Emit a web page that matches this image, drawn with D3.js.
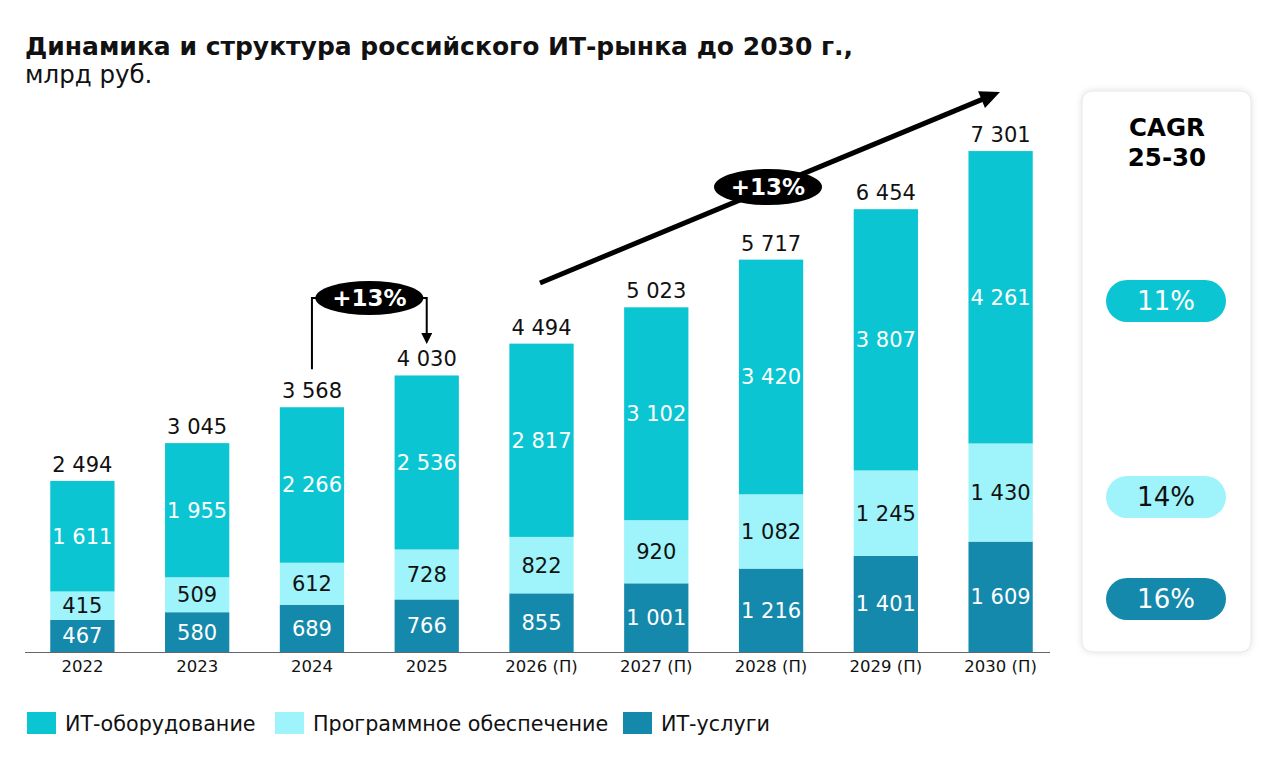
<!DOCTYPE html>
<html>
<head>
<meta charset="utf-8">
<script src="https://cdn.jsdelivr.net/npm/d3@7"></script>
<style>
  body { margin: 0; background: #fff; }
  svg text { font-family: "DejaVu Sans", Verdana, sans-serif; }
</style>
</head>
<body>
<div id="chart"></div>
<script>
// ---- data ----
const years = ["2022", "2023", "2024", "2025", "2026 (П)", "2027 (П)", "2028 (П)", "2029 (П)", "2030 (П)"];
const services = [467, 580, 689, 766, 855, 1001, 1216, 1401, 1609];
const software = [415, 509, 612, 728, 822, 920, 1082, 1245, 1430];
const hardware = [1611, 1955, 2266, 2536, 2817, 3102, 3420, 3807, 4261];
const totals = [2494, 3045, 3568, 4030, 4494, 5023, 5717, 6454, 7301];
const seriesNames = ["ИТ-оборудование", "Программное обеспечение", "ИТ-услуги"];
const cagr = ["11%", "14%", "16%"];

const colors = {hardware: "#0bc6d2", software: "#9ef4fa", services: "#1589ab"};
const fmt = v => d3.format(",")(v).replace(/,/g, " ");

const W = 1280, H = 765;
const svg = d3.select("#chart").append("svg")
    .attr("width", W).attr("height", H);

// shadow filter for the side panel + arrow marker
const defs = svg.append("defs");
const f = defs.append("filter").attr("id", "shadow").attr("x", "-20%").attr("y", "-10%")
    .attr("width", "140%").attr("height", "120%");
f.append("feDropShadow").attr("dx", 0).attr("dy", 0).attr("stdDeviation", 3)
    .attr("flood-color", "#000").attr("flood-opacity", 0.12);
defs.append("marker").attr("id", "arrowHead")
    .attr("viewBox", "0 0 10 10").attr("refX", 5).attr("refY", 5)
    .attr("markerWidth", 11).attr("markerHeight", 11).attr("markerUnits", "userSpaceOnUse")
    .attr("orient", "auto")
    .append("path").attr("d", "M0,0 L10,5 L0,10 z").attr("fill", "#000");

// title
svg.append("text").attr("x", 25).attr("y", 55)
    .attr("font-size", 25).attr("font-weight", "bold").attr("fill", "#111")
    .text("Динамика и структура российского ИТ-рынка до 2030 г.,");
svg.append("text").attr("x", 25).attr("y", 83)
    .attr("font-size", 24.5).attr("fill", "#111")
    .text("млрд руб.");

// scales
const baseY = 652;
const x = d3.scaleBand().domain(years).range([25, 1058]).paddingInner(0.44).paddingOuter(0.22);
const y = d3.scaleLinear().domain([0, 7301]).range([baseY, 151]);

const rows = years.map((yr, i) => ({
    year: yr, services: services[i], software: software[i], hardware: hardware[i], total: totals[i]
}));
const layers = d3.stack().keys(["services", "software", "hardware"])(rows);

const g = svg.append("g");
layers.forEach(layer => {
    const key = layer.key;
    g.selectAll(".bar-" + key)
        .data(layer)
        .enter().append("rect")
        .attr("x", d => x(d.data.year))
        .attr("width", x.bandwidth())
        .attr("y", d => y(d[1]))
        .attr("height", d => y(d[0]) - y(d[1]))
        .attr("fill", colors[key]);
    g.selectAll(".lbl-" + key)
        .data(layer)
        .enter().append("text")
        .attr("x", d => x(d.data.year) + x.bandwidth() / 2)
        .attr("y", d => (y(d[0]) + y(d[1])) / 2 + 7.5)
        .attr("text-anchor", "middle")
        .attr("font-size", 21)
        .attr("fill", key === "software" ? "#111" : "#fff")
        .text(d => fmt(d.data[key]));
});

// totals
g.selectAll(".total")
    .data(rows)
    .enter().append("text")
    .attr("x", d => x(d.year) + x.bandwidth() / 2)
    .attr("y", d => y(d.total) - 9)
    .attr("text-anchor", "middle")
    .attr("font-size", 21).attr("fill", "#111")
    .text(d => fmt(d.total));

// axis
const axis = svg.append("g").attr("transform", `translate(0,${baseY})`)
    .call(d3.axisBottom(x).tickSize(0).tickPadding(8));
axis.select(".domain").attr("stroke", "#666").attr("d", "M25,0.5H1050");
axis.selectAll("text").attr("font-size", 16.5).attr("fill", "#111")
    .attr("font-family", "DejaVu Sans, Verdana, sans-serif");

// +13% annotation 2024 -> 2025
const c24 = x("2024") + x.bandwidth() / 2;
const c25 = x("2025") + x.bandwidth() / 2;
const annY = 298;
svg.append("path")
    .attr("d", `M${c24},${y(3568) - 38} V${annY} H${c25} V${y(4030) - 37}`)
    .attr("fill", "none").attr("stroke", "#000").attr("stroke-width", 2)
    .attr("marker-end", "url(#arrowHead)");
svg.append("ellipse").attr("cx", (c24 + c25) / 2).attr("cy", annY)
    .attr("rx", 54).attr("ry", 17).attr("fill", "#000");
svg.append("text").attr("x", (c24 + c25) / 2).attr("y", annY + 8)
    .attr("text-anchor", "middle").attr("font-size", 23).attr("font-weight", "bold")
    .attr("fill", "#fff").text("+13%");

// big trend arrow
const a0 = [540, 283], a1 = [1000, 92];
const ang = Math.atan2(a1[1] - a0[1], a1[0] - a0[0]);
svg.append("line").attr("x1", a0[0]).attr("y1", a0[1])
    .attr("x2", a1[0] - 14 * Math.cos(ang)).attr("y2", a1[1] - 14 * Math.sin(ang))
    .attr("stroke", "#000").attr("stroke-width", 5);
svg.append("path")
    .attr("d", "M-20,-9 L0,0 L-20,9 z")
    .attr("transform", `translate(${a1[0]},${a1[1]}) rotate(${ang * 180 / Math.PI})`)
    .attr("fill", "#000");
svg.append("ellipse").attr("cx", 768).attr("cy", 187).attr("rx", 54).attr("ry", 18).attr("fill", "#000");
svg.append("text").attr("x", 768).attr("y", 195)
    .attr("text-anchor", "middle").attr("font-size", 23).attr("font-weight", "bold")
    .attr("fill", "#fff").text("+13%");

// CAGR panel
const panel = svg.append("g");
panel.append("rect").attr("x", 1082).attr("y", 91).attr("width", 169).attr("height", 561)
    .attr("rx", 10).attr("fill", "#fff").attr("stroke", "#e6e6e6").attr("filter", "url(#shadow)");
panel.append("text").attr("x", 1167).attr("y", 136).attr("text-anchor", "middle")
    .attr("font-size", 24.5).attr("font-weight", "bold").attr("fill", "#000").text("CAGR");
panel.append("text").attr("x", 1167).attr("y", 166).attr("text-anchor", "middle")
    .attr("font-size", 24.5).attr("font-weight", "bold").attr("fill", "#000").text("25-30");
const pillY = [301, 497, 599];
const pillFill = [colors.hardware, colors.software, colors.services];
const pillText = ["#fff", "#111", "#fff"];
cagr.forEach((v, i) => {
    panel.append("rect").attr("x", 1106).attr("y", pillY[i] - 21).attr("width", 120).attr("height", 42)
        .attr("rx", 21).attr("fill", pillFill[i]);
    panel.append("text").attr("x", 1166).attr("y", pillY[i] + 9).attr("text-anchor", "middle")
        .attr("font-size", 26).attr("fill", pillText[i]).text(v);
});

// legend
const legX = [27, 275, 623];
const legColors = [colors.hardware, colors.software, colors.services];
seriesNames.forEach((n, i) => {
    svg.append("rect").attr("x", legX[i]).attr("y", 712).attr("width", 29).attr("height", 22)
        .attr("fill", legColors[i]);
    svg.append("text").attr("x", legX[i] + 38).attr("y", 731)
        .attr("font-size", 20.7).attr("fill", "#111").text(n);
});
</script>
</body>
</html>
